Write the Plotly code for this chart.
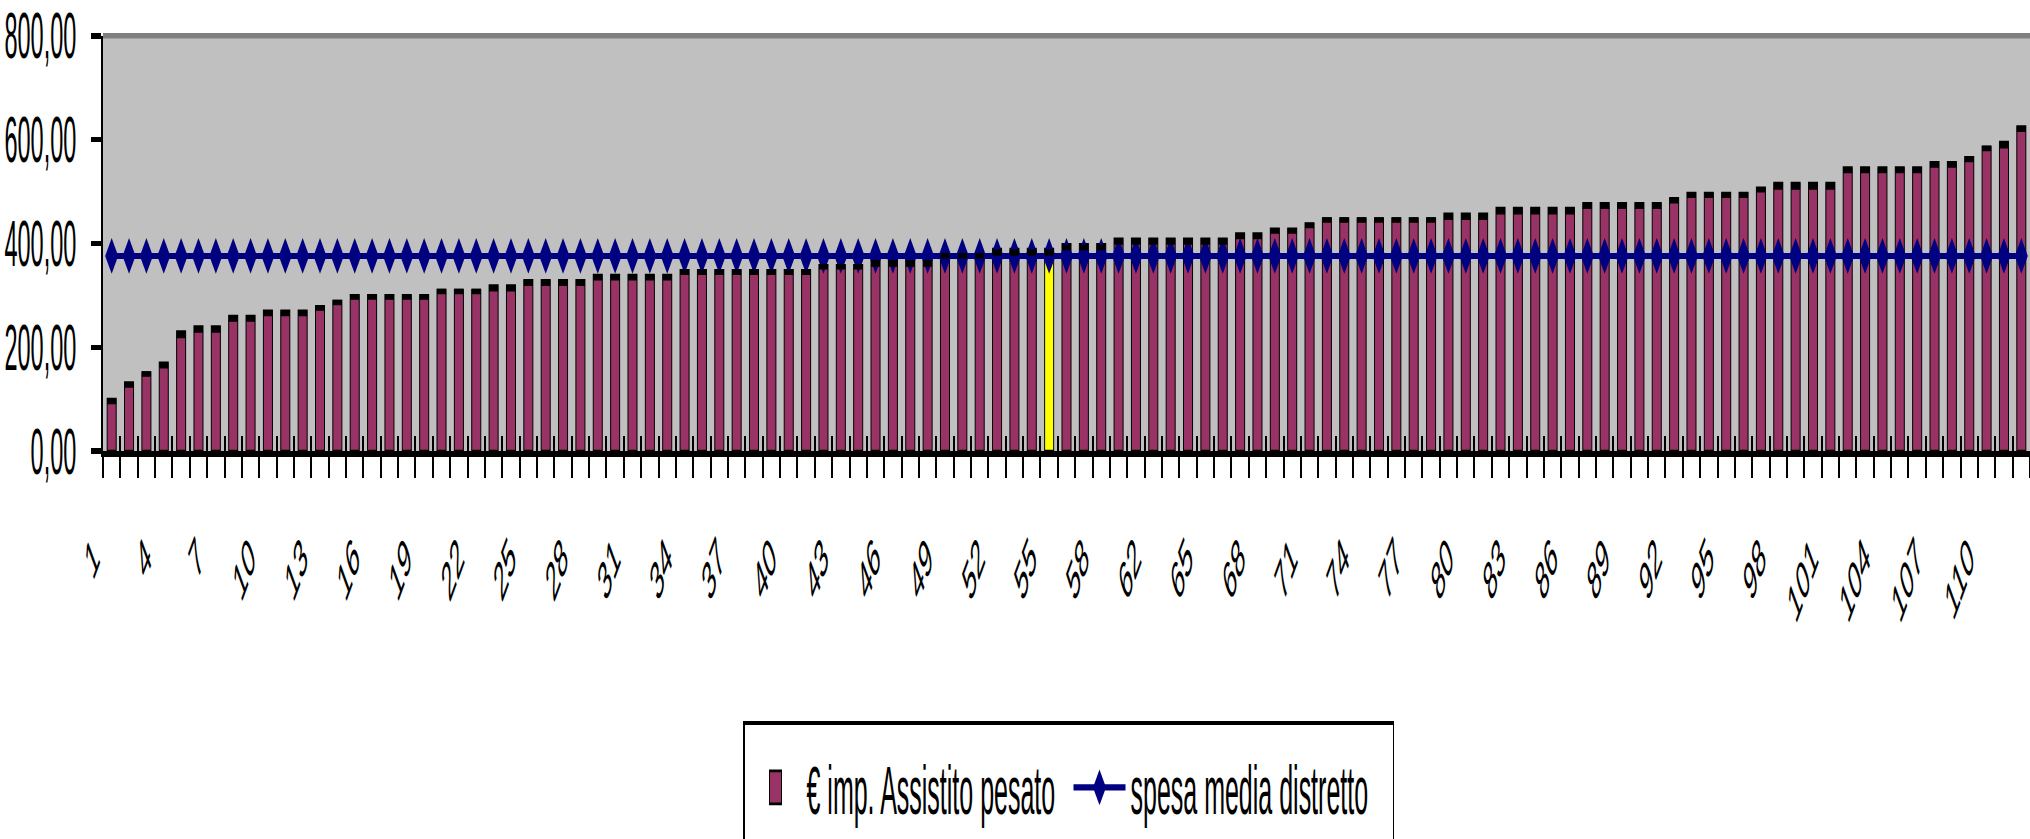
import numpy as np
import plotly.graph_objects as go

# Category IDs (59 is absent from the series)
categories = [str(i) for i in list(range(1, 59)) + list(range(60, 113))]

# Weighted cost per assisted patient (€), sorted ascending
spesa_assistito = [
    100, 132, 151, 170, 230, 240, 240, 260, 260, 270, 270, 270, 279, 289,
    300, 300, 300, 300, 300, 310, 310, 310, 319, 319,
    329, 329, 329, 329, 339, 339, 339, 339, 339,
    348, 348, 348, 348, 348, 348, 348, 348,
    358, 358, 358, 368, 368, 368, 368, 379, 379, 379,
    389, 389, 389, 389, 398, 398, 398,
    409, 409, 409, 409, 409, 409, 409, 419, 419, 428, 428, 438,
    448, 448, 448, 448, 448, 448, 448, 457, 457, 457,
    468, 468, 468, 468, 468, 477, 477, 477, 477, 477, 487,
    497, 497, 497, 497, 507, 516, 516, 516, 516,
    546, 546, 546, 546, 546, 556, 556, 566, 586, 595, 625,
]

# District average spend
spesa_media_distretto = 376.0

# Highlighted category
evidenziato = "55"

y_tick_vals = [0, 200, 400, 600, 800]
y_tick_labels = ["0,00", "200,00", "400,00", "600,00", "800,00"]

n = len(categories)
x_labels = [c if i % 3 == 0 else "" for i, c in enumerate(categories)]

PLUM = "#993366"
NAVY = "#000080"
FONT = "Liberation Sans, Arial, sans-serif"

# The chart is laid out on a short canvas and shown stretched vertically,
# like the spreadsheet picture it comes from.
W, H_PAGE = 2030, 839
H = 305
STRETCH = H_PAGE / H

M_L, M_R = 103, 0
M_T = 36.7 / STRETCH
PLOT_BOTTOM = 451.7 / STRETCH
M_B = H - PLOT_BOTTOM
plot_h = PLOT_BOTTOM - M_T
units_per_px = (y_tick_vals[-1] - y_tick_vals[0]) / plot_h
cap_units = 1.5 * units_per_px  # dark band on top of each bar

bar_colors = ["#FFFF00" if c == evidenziato else PLUM for c in categories]
bar_width = 0.52

fig = go.Figure()

fig.add_trace(go.Bar(
    x=categories, y=spesa_assistito,
    name="€ imp. Assistito pesato",
    width=bar_width,
    marker=dict(color=bar_colors, line=dict(color="black", width=1)),
))

# dark top band of each bar
fig.add_trace(go.Bar(
    x=np.arange(n), y=[cap_units] * n,
    base=[v - cap_units for v in spesa_assistito],
    width=bar_width, xaxis="x2",
    marker=dict(color="black", line=dict(width=0)),
    showlegend=False, hoverinfo="skip",
))

fig.add_trace(go.Scatter(
    x=categories, y=[spesa_media_distretto] * n,
    name="spesa media distretto",
    mode="lines+markers",
    line=dict(color=NAVY, width=2.2),
    marker=dict(symbol="diamond", size=10, color=NAVY),
))

legend_top = 721 / STRETCH
fig.update_layout(
    width=W, height=H,
    margin=dict(l=M_L, r=M_R, t=M_T, b=M_B, autoexpand=False),
    paper_bgcolor="white",
    plot_bgcolor="#C0C0C0",
    barmode="overlay",
    font=dict(family=FONT, color="black"),
    showlegend=True,
    legend=dict(
        orientation="h",
        x=(743 - M_L) / (W - M_L - M_R), xanchor="left",
        y=(PLOT_BOTTOM - legend_top) / plot_h, yanchor="top",
        bgcolor="white",
        bordercolor="black", borderwidth=1.5,
        font=dict(size=25, family=FONT),
        itemwidth=52,
        entrywidth=257, entrywidthmode="pixels",
        traceorder="normal",
    ),
    xaxis=dict(
        type="category",
        categoryorder="array", categoryarray=categories,
        range=[-0.5, n - 0.5],
        tickson="boundaries",
        tickmode="array", tickvals=categories, ticktext=x_labels,
        ticks="outside", ticklen=8, tickwidth=1.5, tickcolor="black",
        tickangle=-45,
        ticklabelstandoff=17,
        ticklabelshift=-18,
        tickfont=dict(size=20, family=FONT),
        showline=True, linecolor="black", linewidth=1.5,
        showgrid=False, zeroline=False,
    ),
    xaxis2=dict(
        overlaying="x", anchor="y", side="bottom",
        range=[-0.5, n - 0.5],
        tickmode="array", tickvals=np.arange(n + 1) - 0.5,
        ticks="inside", ticklen=5.5, tickwidth=1.5, tickcolor="black",
        showticklabels=False, showline=False, showgrid=False, zeroline=False,
    ),
    yaxis=dict(
        range=[y_tick_vals[0], y_tick_vals[-1]],
        tickmode="array", tickvals=y_tick_vals, ticktext=y_tick_labels,
        ticks="outside", ticklen=10, tickwidth=1.5, tickcolor="black",
        ticklabelstandoff=10,
        tickfont=dict(size=23.5, family=FONT),
        showline=True, linecolor="black", linewidth=2,
        showgrid=False, zeroline=False,
    ),
    shapes=[dict(
        type="line", xref="paper", yref="paper",
        x0=0, x1=1, y0=1, y1=1,
        line=dict(color="#808080", width=2),
    )],
)

stretch_js = """
var gd = document.getElementById('{plot_id}');
gd.style.transformOrigin = '0 0';
gd.style.transform = 'scale(1, %.5f)';
""" % STRETCH

fig.write_html("out.html", post_script=stretch_js)
